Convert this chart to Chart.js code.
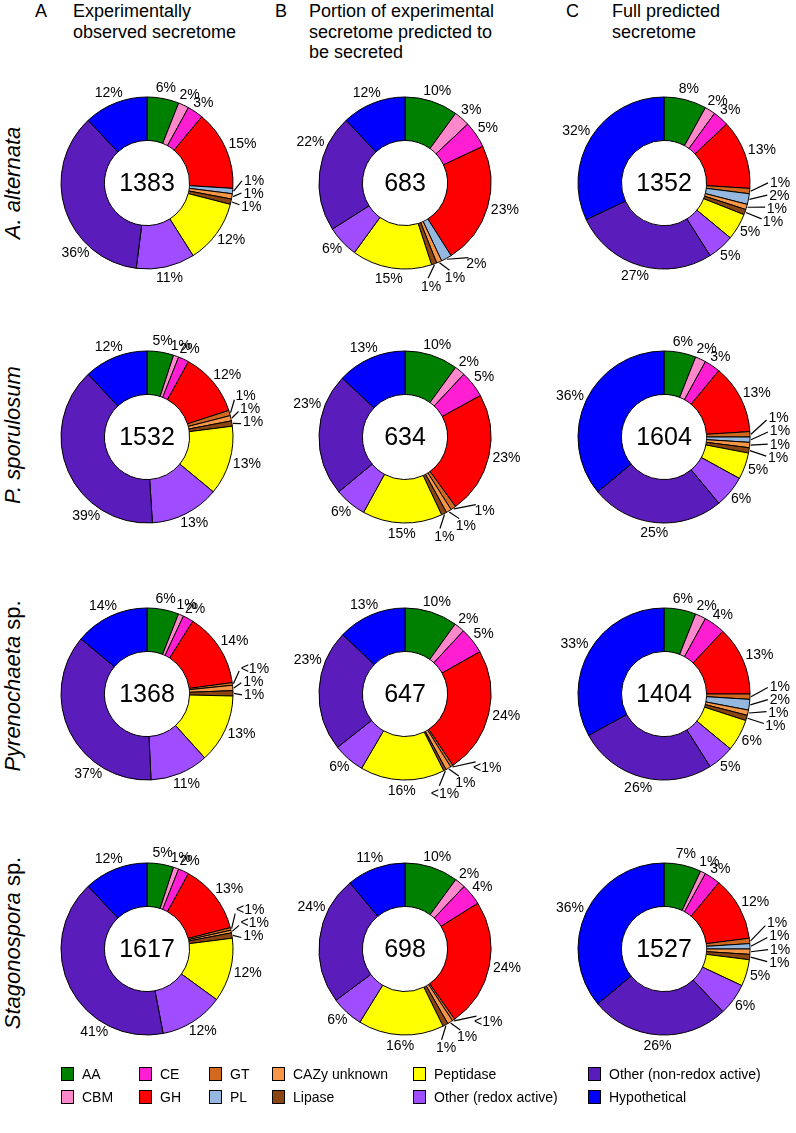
<!DOCTYPE html>
<html>
<head>
<meta charset="utf-8">
<script src="https://cdn.jsdelivr.net/npm/chart.js@4"></script>
<style>
body { margin: 0; width: 796px; height: 1133px; position: relative; overflow: hidden; background: #fff;
       font-family: 'Liberation Sans', Arial, sans-serif; color: #000; }
.letter { position: absolute; font-size: 18px; line-height: 20.5px; }
.head { position: absolute; font-size: 18px; line-height: 20.5px; white-space: nowrap; }
.row { position: absolute; font-size: 22px; white-space: nowrap; transform: translate(-50%, -50%) rotate(-90deg); }
.row i { font-style: italic; }
canvas { position: absolute; }
.leg { position: absolute; font-size: 14px; white-space: nowrap; display: flex; align-items: center; transform: translateY(-50%); }
.leg b { display: inline-block; width: 13px; height: 14px; border: 1.5px solid #000; box-sizing: border-box; margin-right: 8px; }
</style>
</head>
<body>
<script>
// categories, in slice / legend order
const categories = ['AA', 'CBM', 'CE', 'GH', 'GT', 'PL', 'CAZy unknown', 'Lipase',
                    'Peptidase', 'Other (redox active)', 'Other (non-redox active)', 'Hypothetical'];
const colors = ['#008000', '#FF88CC', '#FF1ED2', '#FF0000', '#D2691E', '#94B8E0', '#F79646', '#8B4513',
                '#FFFF00', '#A04CFF', '#5A1CBB', '#0000FF'];

// column headers and row labels
const panelLetters = ['A', 'B', 'C'];
const panelTitles = [
  ['Experimentally', 'observed secretome'],
  ['Portion of experimental', 'secretome predicted to', 'be secreted'],
  ['Full predicted', 'secretome']
];
const speciesItalic = ['A. alternata', 'P. sporulosum', 'Pyrenochaeta', 'Stagonospora'];
const speciesSuffix = ['', '', ' sp.', ' sp.'];

// percentages per species (0.5 = "<1%")
const alternataA = [6, 2, 3, 15, 0, 1, 1, 1, 12, 11, 36, 12];
const alternataB = [10, 3, 5, 23, 0, 2, 1, 1, 15, 6, 22, 12];
const alternataC = [8, 2, 3, 13, 1, 2, 1, 1, 5, 5, 27, 32];
const sporulosumA = [5, 1, 2, 12, 1, 0, 1, 1, 13, 13, 39, 12];
const sporulosumB = [10, 2, 5, 23, 1, 0, 1, 1, 15, 6, 23, 13];
const sporulosumC = [6, 2, 3, 13, 1, 1, 1, 1, 5, 6, 25, 36];
const pyrenochaetaA = [6, 1, 2, 14, 0.5, 0, 1, 1, 13, 11, 37, 14];
const pyrenochaetaB = [10, 2, 5, 24, 0.5, 0, 1, 0.5, 16, 6, 23, 13];
const pyrenochaetaC = [6, 2, 4, 13, 1, 2, 1, 1, 6, 5, 26, 33];
const stagonosporaA = [5, 1, 2, 13, 0.5, 0, 0.5, 1, 12, 12, 41, 12];
const stagonosporaB = [10, 2, 4, 24, 0.5, 0, 1, 1, 16, 6, 24, 11];
const stagonosporaC = [7, 1, 3, 12, 1, 1, 1, 1, 5, 6, 26, 36];

// protein counts in the middle of each ring
const totalsA = [1383, 1532, 1368, 1617];
const totalsB = [683, 634, 647, 698];
const totalsC = [1352, 1604, 1404, 1527];

const panels = [
  [alternataA, alternataB, alternataC],
  [sporulosumA, sporulosumB, sporulosumC],
  [pyrenochaetaA, pyrenochaetaB, pyrenochaetaC],
  [stagonosporaA, stagonosporaB, stagonosporaC]
];
const totals = [totalsA, totalsB, totalsC];

// layout
const colX = [147, 405, 664];
const rowY = [183, 437, 694, 949];
const leaderLen = [9, 12, 18];
// where the big purple label sits inside its slice (fraction of the arc), per column
const labelSpot = [{'Other (non-redox active)': 0.28}, {'Other (non-redox active)': 0.72}, {}];
const smallGroup = ['GT', 'PL', 'CAZy unknown', 'Lipase'];

const pct = v => (v < 1 ? '<1%' : v + '%');

const sliceLabels = {
  id: 'sliceLabels',
  afterDatasetsDraw(chart, args, opts) {
    const ctx = chart.ctx;
    const arcs = chart.getDatasetMeta(0).data;
    const vals = chart.data.datasets[0].data;
    const cx = arcs[0].x, cy = arcs[0].y, outer = arcs[0].outerRadius;
    ctx.save();
    ctx.font = '14px "Liberation Sans", Arial, sans-serif';
    ctx.fillStyle = '#000';
    ctx.strokeStyle = '#000';
    ctx.lineWidth = 1.2;
    ctx.textAlign = 'center';
    ctx.textBaseline = 'middle';

    const place = (a, r, txt) => {
      const w = ctx.measureText(txt).width;
      const x = cx + Math.cos(a) * (r + w / 2);
      const y = cy + Math.sin(a) * r + Math.sin(a) * 7;
      ctx.fillText(txt, x, y);
    };

    const group = [];
    arcs.forEach((arc, i) => {
      if (!vals[i]) return;
      const mid = (arc.startAngle + arc.endAngle) / 2;
      if (smallGroup.includes(categories[i])) {
        group.push({ i, mid });
        return;
      }
      let a = mid;
      const spot = opts.spot[categories[i]];
      if (spot != null) a = arc.startAngle + (arc.endAngle - arc.startAngle) * spot;
      place(a, outer + 4, pct(vals[i]));
    });

    if (group.length) {
      const rLine = outer + opts.leader;
      const rText = rLine + 2;
      const R = rText + 6;
      const centre = group.reduce((s, g) => s + g.mid, 0) / group.length - 3 * Math.PI / 180;
      const step = Math.min(13 / (R * Math.abs(Math.cos(centre))), 22 / (R * Math.abs(Math.sin(centre))));
      group.forEach((g, k) => {
        const a = centre + (k - (group.length - 1) / 2) * step;
        ctx.beginPath();
        ctx.moveTo(cx + Math.cos(g.mid) * (outer + 1), cy + Math.sin(g.mid) * (outer + 1));
        ctx.lineTo(cx + Math.cos(a) * rLine, cy + Math.sin(a) * rLine);
        ctx.stroke();
        place(a, rText, pct(vals[g.i]));
      });
    }

    ctx.font = '25px "Liberation Sans", Arial, sans-serif';
    ctx.fillText(String(opts.total), cx, cy + 1);
    ctx.restore();
  }
};

function addDiv(cls, html, left, top) {
  const d = document.createElement('div');
  d.className = cls;
  d.innerHTML = html;
  d.style.left = left + 'px';
  d.style.top = top + 'px';
  document.body.appendChild(d);
  return d;
}

// headers
const letterX = [35, 275, 566];
const titleX = [73, 309, 612];
panelLetters.forEach((l, c) => {
  addDiv('letter', l, letterX[c], 1);
  addDiv('head', panelTitles[c].join('<br>'), titleX[c], 1);
});

// species labels
const rowLabelY = [183, 435, 686, 943];
speciesItalic.forEach((s, r) => {
  addDiv('row', '<i>' + s + '</i>' + speciesSuffix[r], 13, rowLabelY[r]);
});

// doughnuts
panels.forEach((rowData, r) => {
  rowData.forEach((values, c) => {
    const canvas = document.createElement('canvas');
    canvas.width = 270;
    canvas.height = 250;
    canvas.style.left = (colX[c] - 135) + 'px';
    canvas.style.top = (rowY[r] - 125) + 'px';
    document.body.appendChild(canvas);
    new Chart(canvas.getContext('2d'), {
      type: 'doughnut',
      data: {
        labels: categories,
        datasets: [{
          data: values,
          backgroundColor: colors,
          borderColor: '#000',
          borderWidth: 1
        }]
      },
      options: {
        responsive: false,
        animation: false,
        radius: 86,
        cutout: '49.5%',
        layout: { padding: 0 },
        plugins: {
          legend: { display: false },
          tooltip: { enabled: false },
          sliceLabels: { total: totals[c][r], leader: leaderLen[c], spot: labelSpot[c] }
        }
      },
      plugins: [sliceLabels]
    });
  });
});

// legend, two rows, filled column by column
const legendX = [61, 139, 209, 272, 413, 588];
const legendY = [1074, 1097];
categories.forEach((cat, i) => {
  const d = addDiv('leg', '<b style="background:' + colors[i] + '"></b>' + cat,
    legendX[Math.floor(i / 2)], legendY[i % 2]);
});
</script>
</body>
</html>
